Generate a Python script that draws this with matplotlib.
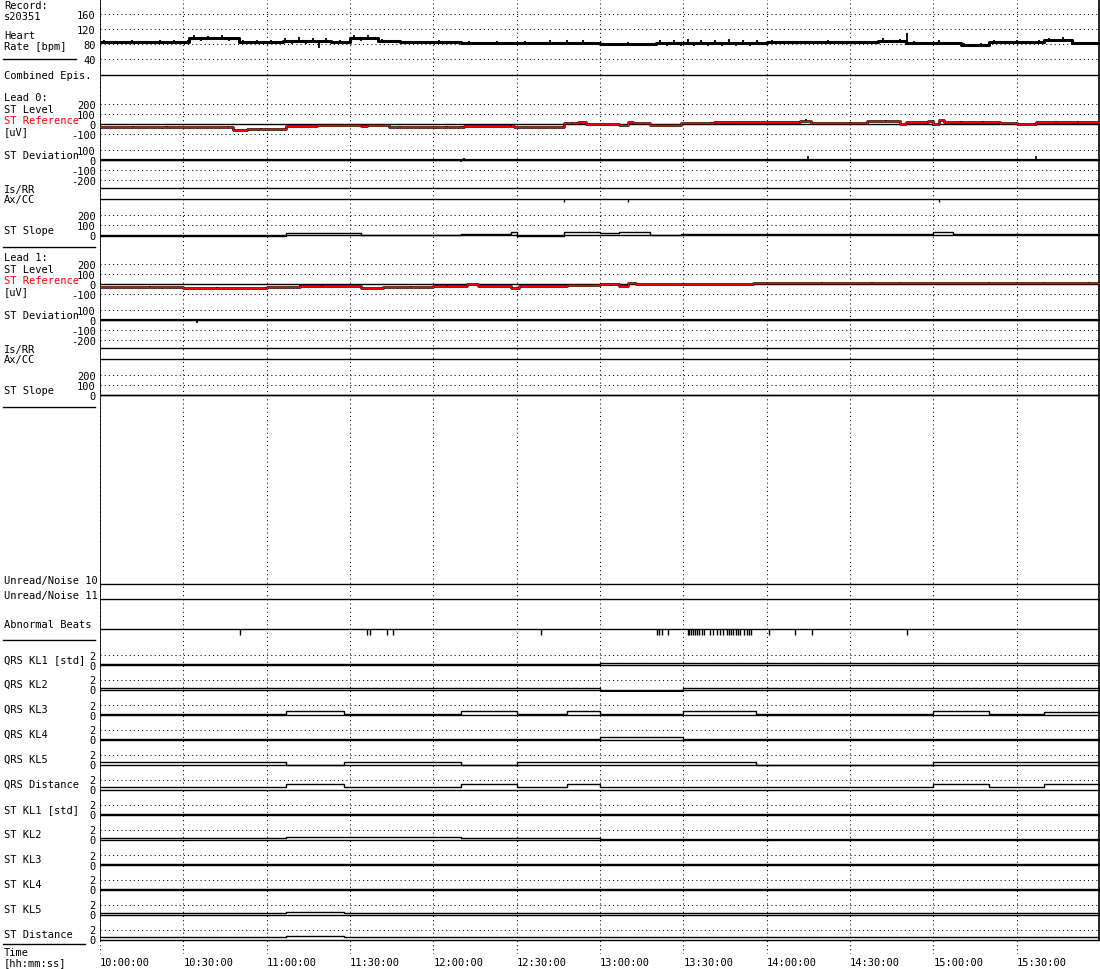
import numpy as np
import matplotlib
matplotlib.use("Agg")
import matplotlib.pyplot as plt

W, H = 1100, 970
X0, X1 = 100, 1100
FONT = "DejaVu Sans Mono"
FS = 7.5
DOT = (0, (1, 3))

# minutes after 10:00:00
time_ticks = [0, 30, 60, 90, 120, 150, 180, 210, 240, 270, 300, 330]
time_labels = ["10:00:00", "10:30:00", "11:00:00", "11:30:00", "12:00:00", "12:30:00",
               "13:00:00", "13:30:00", "14:00:00", "14:30:00", "15:00:00", "15:30:00"]

# heart rate [bpm]: level segments plus beat-to-beat excursions
hr_t = [0, 32, 50, 66, 83, 90, 100, 108, 130, 160, 180, 200, 240, 280, 290, 310, 320, 340, 350, 360]
hr_v = [85, 95, 86, 87, 86, 95, 88, 85, 84, 84, 79, 83, 85, 89, 84, 77, 86, 92, 82, 82]
hr_spike_t = [1.5, 4, 6.5, 9, 11.5, 14, 16.5, 19, 21.5, 24, 26.5, 29, 31.5, 34, 36.5, 39, 41.5,
              44, 46.5, 49, 51.5, 54, 56.5, 59, 61.5, 64, 66.5, 69, 71.5, 74, 76.5, 79, 81.5,
              84, 86.5, 89, 91.5, 94, 96.5, 99, 101.5, 104, 106.5, 112, 117, 122, 127, 133, 138,
              143, 148, 153, 158, 162, 165, 168, 171, 174, 177, 182, 186, 190, 194, 198, 201.5,
              204, 206.5, 209, 211.5, 214, 216.5, 219, 221.5, 224, 226.5, 229, 231.5, 234,
              236.5, 242, 247, 252, 257, 262, 267, 272, 277, 282, 285, 288, 290.5, 293, 297,
              302, 306, 311, 314, 317, 322, 326, 330, 334, 338, 341.5, 344, 346.5, 349, 352,
              355, 358]
hr_spike_v = [90, 81, 89, 82, 91, 80, 89, 81, 90, 82, 91, 80, 92, 104, 89, 102, 90, 103, 88,
              100, 91, 82, 90, 83, 91, 82, 96, 79, 100, 80, 97, 69, 95, 82, 90, 83, 103, 89, 104,
              90, 93, 84, 92, 89, 81, 90, 81, 88, 80, 89, 80, 88, 81, 91, 78, 92, 79, 90, 78, 84,
              74, 85, 74, 84, 92, 75, 91, 74, 93, 76, 92, 74, 91, 75, 93, 76, 90, 75, 91, 90, 81,
              89, 81, 90, 81, 89, 82, 95, 85, 94, 109, 88, 80, 90, 79, 82, 73, 82, 91, 81, 90, 81,
              91, 97, 88, 98, 87, 86, 78, 86]

# lead 0 ST reference / level [uV]
ref0_t = [0, 48, 53, 67, 70, 78, 86, 94, 96, 104, 120, 131, 149, 167, 172, 175, 180, 187, 190,
          192, 198, 209, 221, 252, 256, 276, 288, 290, 298, 300, 302, 304, 324, 330, 337, 348, 360]
ref0_v = [-27, -60, -50, -20, -17, -10, -5, -15, -10, -30, -28, -18, -30, 15, 25, 5, 0, -10, 25,
          10, -5, 15, 25, 30, 10, 30, 0, 20, 30, 0, 38, 20, 15, 0, 25, 18, 18]
lvl0_blip_t = [4, 12, 19, 24, 35, 40, 46, 58, 64, 75, 83, 90, 99, 108, 118, 125, 130, 131, 140,
               148, 158, 170, 185, 196, 205, 220, 235, 254, 262, 270, 283, 300, 310, 318, 327,
               336, 344, 352]
lvl0_blip_v = [-8, 6, -6, 6, -10, -12, 6, 8, -8, -10, 10, 8, -12, 6, -10, 6, 12, -15, -6,
               10, -8, 8, -8, -15, 6, 8, -6, 20, -10, 6, 8, -15, 6, 10, -8, -12, 6, 10]
dev0_blip_t = [2, 5, 10, 14, 18, 23, 27, 30, 36, 41, 45, 50, 55, 58, 62, 66, 70, 74, 78, 83, 88,
               92, 96, 101, 106, 110, 115, 120, 124, 130, 131, 136, 140, 146, 152, 156, 160,
               164, 167, 172, 176, 181, 185, 190, 195, 200, 205, 210, 215, 222, 230, 238, 245,
               250, 255, 260, 266, 272, 280, 285, 290, 295, 300, 305, 310, 316, 322, 328, 333,
               337, 341, 345, 350, 355]
dev0_blip_v = [-6, 8, 5, -6, -6, 6, 5, 6, -8, 6, 10, -5, 8, 6, -6, 5, 6, -5, -6, 6, 10, 6, 8, -5,
               10, 6, -6, -5, 6, -25, 15, 5, 6, -5, 10, 6, 8, -6, -15, 5, 8, 6, 10, 5, -8, 6, 6,
               5, 6, 6, 8, 5, -6, 6, 40, -8, -8, 6, 8, 6, 10, -6, -8, 6, 8, 5, -8, 6, 6, 40, -6,
               -6, 8, 6]
slope0_t = [0, 67, 94, 130, 148, 150, 167, 180, 187, 198, 209, 300, 307, 360]
slope0_v = [-5, 20, 0, 13, 33, -5, 27, 20, 33, 0, 13, 33, 13, 13]

# lead 1 ST reference / level [uV]
ref1_t = [0, 30, 44, 60, 72, 94, 102, 120, 132, 136, 148, 151, 168, 180, 187, 190, 193, 222, 235, 360]
ref1_v = [-27, -37, -43, -30, -20, -37, -27, -20, -3, -23, -37, -20, -7, -3, -17, 7, -3, 3, 13, 13]
lvl1_blip_t = [4, 10, 18, 25, 35, 42, 55, 66, 72, 80, 88, 98, 104, 112, 125, 132, 140, 150, 160,
               170, 184, 192, 200, 208, 215, 230, 240, 250, 260, 268, 278, 288, 298, 310, 320,
               330, 340, 350, 356]
lvl1_blip_v = [-6, -8, 6, -6, -10, 6, 8, -10, 6, 8, -6, -10, -12, 6, 6, 8, -8, -6, -8, 6, -12, 6,
               -8, 6, 8, -6, 6, -6, 6, -12, 6, 8, -6, -6, 6, 6, 6, -6, 6]
dev1_blip_t = [3, 8, 14, 20, 26, 35, 42, 48, 54, 60, 66, 73, 80, 86, 90, 95, 100, 105, 110, 116,
               122, 128, 135, 140, 145, 152, 160, 165, 170, 176, 182, 186, 190, 197, 205, 212,
               220, 225, 232, 240, 245, 252, 262, 270, 278, 285, 292, 300, 306, 312, 318, 324,
               330, 338, 345, 350, 355]
dev1_blip_v = [5, 6, -5, -6, 5, -30, 6, 6, -5, -8, -10, 6, 8, -5, -8, 6, 8, -6, -10, 5, 6, 5, -8,
               6, 6, 5, -8, 6, 8, 6, 10, -6, -10, 6, 6, 5, -6, 6, 5, 8, -5, 6, -8, 8, 6, -12, 6, 8,
               -5, 6, -8, 6, 6, -6, -8, 6, 6]
slope1_t = [0, 130, 180, 360]
slope1_v = [0, 3, 0, 0]

# Ax/CC marks (lead 0)
axcc0_t = [167, 190, 302]

# abnormal beats
abn_t = [50.4, 96.1, 97.2, 103.3, 105.5, 158.8, 200.5, 201.2, 202.3, 204.5, 211.5, 212.2, 212.9,
         213.6, 214.3, 215.0, 215.8, 216.7, 217.4, 219.6, 220.7, 222.1, 223.2, 224.3, 225.7, 226.4,
         227.2, 227.9, 229.0, 229.7, 230.4, 231.8, 232.9, 233.6, 234.4, 240.8, 250.2, 256.3, 290.5]

# Karhunen-Loeve / distance traces [std], step values
kl_names = ["QRS KL1 [std]", "QRS KL2", "QRS KL3", "QRS KL4", "QRS KL5", "QRS Distance",
            "ST KL1 [std]", "ST KL2", "ST KL3", "ST KL4", "ST KL5", "ST Distance"]
kl_t = [0, 67, 88, 130, 150, 168, 180, 210, 236, 300, 320, 340, 360]
kl_v = [
    [0.1, 0.1, 0.1, 0.1, 0.1, 0.1, 0.3, 0.3, 0.3, 0.3, 0.3, 0.3, 0.3],
    [0.3, 0.3, 0.3, 0.3, 0.3, 0.3, -0.2, 0.3, 0.3, 0.3, 0.3, 0.3, 0.3],
    [0.2, 0.8, 0.2, 0.8, 0.2, 0.8, 0.2, 0.8, 0.2, 0.8, 0.2, 0.6, 0.6],
    [0.2, 0.2, 0.2, 0.2, 0.2, 0.2, 0.5, 0.2, 0.2, 0.2, 0.2, 0.2, 0.2],
    [0.6, 0.0, 0.6, 0.0, 0.6, 0.6, 0.6, 0.6, 0.0, 0.6, 0.6, 0.6, 0.6],
    [0.6, 1.2, 0.6, 1.2, 0.6, 1.2, 0.6, 0.6, 0.6, 1.2, 0.6, 1.2, 1.2],
    [0.1, 0.1, 0.1, 0.1, 0.1, 0.1, 0.1, 0.1, 0.1, 0.1, 0.1, 0.1, 0.1],
    [0.4, 0.6, 0.6, 0.4, 0.4, 0.4, 0.2, 0.2, 0.2, 0.2, 0.2, 0.2, 0.2],
    [0.1, 0.1, 0.1, 0.1, 0.1, 0.1, 0.1, 0.1, 0.1, 0.1, 0.1, 0.1, 0.1],
    [0.1, 0.1, 0.1, 0.1, 0.1, 0.1, 0.1, 0.1, 0.1, 0.1, 0.1, 0.1, 0.1],
    [0.4, 0.6, 0.4, 0.4, 0.4, 0.4, 0.4, 0.4, 0.4, 0.4, 0.4, 0.4, 0.4],
    [0.5, 0.8, 0.5, 0.5, 0.5, 0.5, 0.5, 0.5, 0.5, 0.5, 0.5, 0.5, 0.5],
]


fig = plt.figure(figsize=(W / 100, H / 100), dpi=100)
fig.patch.set_facecolor("white")


def fx(x):
    return x / W


def fy(y):
    return 1 - y / H


def label(x, y, s, color="black", ha="left"):
    fig.text(fx(x), fy(y), s, ha=ha, va="center", family=FONT, fontsize=FS, color=color)


def panel(top, bottom, zero_px, px_per_unit, ticks=(), dotted=(), solid=()):
    ax = fig.add_axes([fx(X0), fy(bottom), (X1 - X0) / W, (bottom - top) / H])
    ax.set_xlim(0, 360)
    ax.set_ylim((zero_px - bottom) / px_per_unit, (zero_px - top) / px_per_unit)
    ax.patch.set_visible(False)
    for s in ax.spines.values():
        s.set_visible(False)
    ax.set_xticks([])
    ax.set_yticks(list(ticks))
    ax.set_yticklabels([str(v) for v in ticks], family=FONT, fontsize=FS)
    ax.tick_params(axis="y", length=0, pad=3)
    for v in dotted:
        ax.axhline(v, color="black", lw=0.75, ls=DOT)
    for v in solid:
        ax.axhline(v, color="black", lw=1.0)
    return ax


def step_at(ts, vs, t):
    idx = np.searchsorted(ts, t, side="right") - 1
    return np.asarray(vs)[np.clip(idx, 0, len(vs) - 1)]


# background with vertical time grid
bg = fig.add_axes([fx(X0), fy(955), (X1 - X0) / W, 955 / H])
bg.set_xlim(0, 360)
bg.set_ylim(955, 0)
bg.axis("off")
for t in time_ticks:
    bg.axvline(t, color="black", lw=0.75, ls=DOT)
bg.vlines([0], 0, 942, color="black", lw=1.2)
bg.vlines([359.6], 0, 942, color="black", lw=1.2)
for t, s in zip(time_ticks, time_labels):
    fig.text(fx(X0 + t * 1000 / 360), fy(963), s, ha="left", va="center",
             family=FONT, fontsize=FS)

# heart rate
ax = panel(0, 75, 75, 15 / 40, ticks=[40, 80, 120, 160], dotted=[40, 80, 120, 160])
ax.step(hr_t, hr_v, where="post", color="black", lw=2.2)
ax.vlines(hr_spike_t, step_at(hr_t, hr_v, np.array(hr_spike_t)), hr_spike_v,
          color="black", lw=1.3)

# combined episodes
ax = panel(70, 80, 75.5, 1, solid=[0])

leads = [
    (0, ref0_t, ref0_v, lvl0_blip_t, lvl0_blip_v, dev0_blip_t, dev0_blip_v, slope0_t, slope0_v, axcc0_t),
    (160, ref1_t, ref1_v, lvl1_blip_t, lvl1_blip_v, dev1_blip_t, dev1_blip_v, slope1_t, slope1_v, []),
]
for b, rt, rv, lbt, lbv, dbt, dbv, st, sv, axcc in leads:
    ax = panel(90 + b, 142 + b, 125 + b, 0.1, ticks=[-100, 0, 100, 200],
               dotted=[-100, 100, 200], solid=[0])
    base = step_at(rt, rv, np.array(lbt))
    ax.step(rt, rv, where="post", color="black", lw=1.8)
    ax.vlines(lbt, base, base + np.array(lbv), color="black", lw=1.2)
    ax.step(rt, rv, where="post", color="red", lw=1.0)

    ax = panel(145 + b, 185 + b, 160.7 + b, 0.1, ticks=[-200, -100, 0, 100],
               dotted=[-200, -100, 100], solid=[0])
    ax.vlines(dbt, 0, dbv, color="black", lw=1.2)
    ax.axhline(0, color="black", lw=1.6)

    ax = panel(186 + b, 206 + b, 200 + b, 1, solid=[0, 10.7])
    ax.vlines(axcc, -3, 0, color="black", lw=1)

    ax = panel(207 + b, 246 + b, 236 + b, 0.1, ticks=[0, 100, 200], dotted=[100, 200], solid=[0])
    ax.step(st, sv, where="post", color="black", lw=1.0)

# unread / noise, abnormal beats
ax = panel(580, 640, 630.3, 1, solid=[0, 30, 45.3])
ax.vlines(abn_t, -6, 0, color="black", lw=1)

# KL panels
for k, vals in enumerate(kl_v):
    z = 665.5 + 25 * k
    ax = panel(z - 20, z + 2, z, 5, ticks=[0, 2], dotted=[2], solid=[0])
    ax.step(kl_t, vals, where="post", color="black", lw=1.0)
    label(4, 660 + 25 * k, kl_names[k])

# left column labels
label(4, 6, "Record:")
label(4, 17, "s20351")
label(4, 36, "Heart")
label(4, 47, "Rate [bpm]")
label(4, 76, "Combined Epis.")
for b, name in [(0, "Lead 0:"), (160, "Lead 1:")]:
    label(4, 98 + b, name)
    label(4, 110 + b, "ST Level")
    label(4, 121 + b, "ST Reference", color="red")
    label(4, 132 + b, "[uV]")
    label(4, 156 + b, "ST Deviation")
    label(4, 190 + b, "Is/RR")
    label(4, 200 + b, "Ax/CC")
    label(4, 231 + b, "ST Slope")
label(4, 581, "Unread/Noise 10")
label(4, 596, "Unread/Noise 11")
label(4, 625, "Abnormal Beats")
label(4, 953, "Time")
label(4, 963, "[hh:mm:ss]")

for y, x2 in [(60.3, 76), (248, 95), (408, 95), (640.7, 95), (945, 85)]:
    fig.add_artist(plt.Line2D([fx(3), fx(x2)], [fy(y), fy(y)], color="black", lw=1.0))

fig.savefig("out.png", dpi=100)
